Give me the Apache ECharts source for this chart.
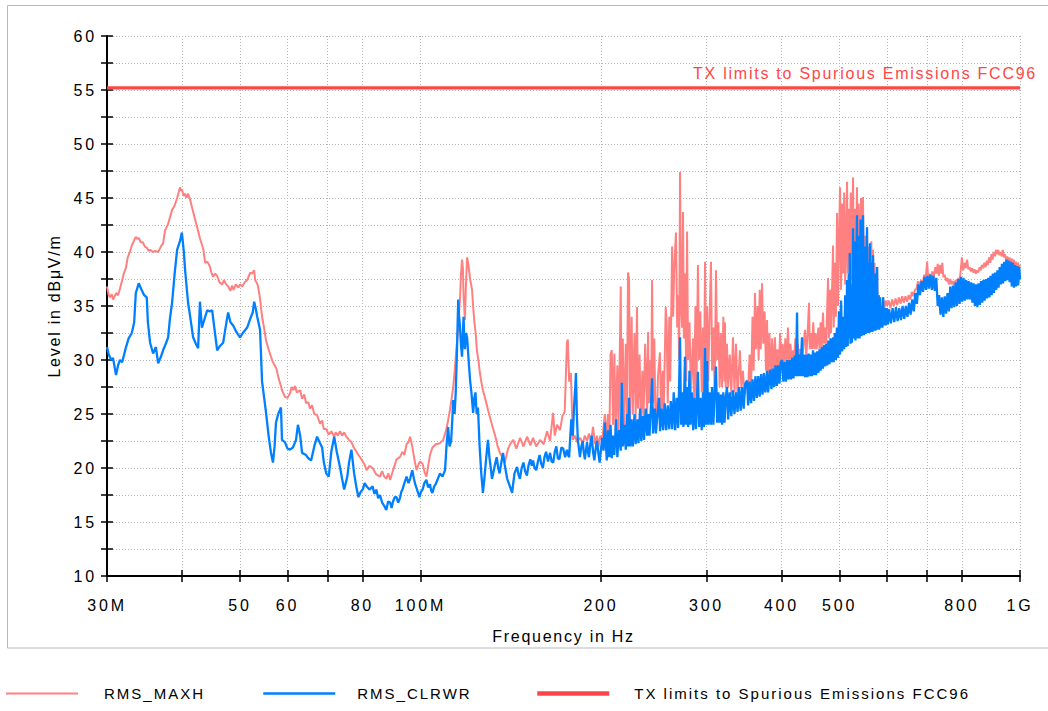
<!DOCTYPE html>
<html><head><meta charset="utf-8">
<script src="https://cdn.jsdelivr.net/npm/echarts@6.0.0/dist/echarts.min.js"></script>
<style>
html,body{margin:0;padding:0;background:#fff;}
#chart{width:1048px;height:711px;}
#chart text{letter-spacing:1.75px;}
#chart text[style*="Arial"], #chart text[font-family*="Arial"]{letter-spacing:2.8px;}
#chart text[style*="Helvetica"], #chart text[font-family*="Helvetica"]{letter-spacing:2px;}
</style></head><body><div id="chart"></div>
<script>
const FONT = "'Liberation Sans',sans-serif";
const TICK_FONT = "'Liberation Sans',Arial,sans-serif";
const LEGEND_FONT = "'Liberation Sans',Helvetica,sans-serif";

// RMS_MAXH trace: [frequency in MHz, level in dBuV/m]
const maxhData = [
[30.0,36.8],[30.2,36.0],[30.35,35.8],[30.55,36.1],[30.7,35.6],[30.9,35.9],[31.06,36.2],[31.3,36.0],[31.53,36.6],[31.8,37.4],[32.0,38.0],[32.25,38.5],[32.49,39.5],[32.75,40.0],[33.0,40.6],[33.25,41.0],[33.51,41.4],[33.7,41.2],[33.89,41.3],[34.15,40.9],[34.42,40.9],[34.7,40.5],[34.95,40.4],[35.2,40.1],[35.4,40.2],[35.81,40.0],[36.1,40.1],[36.51,40.0],[36.9,40.5],[37.21,40.8],[37.5,42.0],[37.94,42.6],[38.2,43.2],[38.52,43.9],[38.9,44.3],[39.27,45.0],[39.5,45.5],[39.72,46.0],[39.85,45.7],[40.0,45.8],[40.25,45.2],[40.5,45.4],[40.7,45.0],[40.96,45.4],[41.3,44.8],[41.6,44.1],[42.0,43.2],[42.41,42.3],[42.9,41.2],[43.41,40.3],[43.74,39.0],[44.1,39.1],[44.5,38.7],[44.8,38.1],[45.1,37.7],[45.45,38.0],[45.8,37.8],[46.2,37.2],[46.69,37.0],[47.0,37.4],[47.3,37.1],[47.8,36.8],[48.2,36.4],[48.51,36.9],[48.8,36.5],[49.2,37.0],[49.7,36.7],[50.0,37.0],[50.42,36.8],[50.9,37.2],[51.4,37.4],[52.0,38.1],[52.4,38.0],[52.8,38.3],[53.0,37.4],[53.5,37.0],[54.0,35.7],[54.42,34.0],[54.83,33.0],[55.26,31.8],[55.8,31.0],[56.32,30.3],[56.54,30.0],[57.0,29.6],[57.5,29.2],[58.0,28.3],[58.52,27.6],[58.75,27.2],[59.4,26.6],[60.0,26.5],[60.56,26.9],[61.0,27.5],[61.4,27.2],[61.75,27.6],[62.2,27.0],[63.0,27.2],[63.46,26.4],[64.0,26.8],[64.45,26.0],[65.0,26.1],[65.4,25.5],[65.95,25.8],[66.5,25.0],[67.23,24.9],[68.0,24.1],[68.53,24.4],[69.0,23.6],[69.64,23.6],[70.3,23.1],[71.0,23.4],[71.8,22.9],[72.2,23.3],[72.8,23.0],[73.4,23.4],[74.0,23.0],[74.6,23.3],[75.2,22.9],[76.0,22.6],[76.7,22.4],[77.4,21.9],[78.2,21.5],[78.8,21.2],[79.5,20.9],[80.1,20.6],[80.7,20.3],[81.3,19.8],[82.2,20.2],[83.2,20.0],[84.4,19.4],[85.6,19.2],[86.3,19.7],[87.0,19.2],[87.7,19.0],[88.4,19.5],[89.0,18.9],[89.9,19.7],[90.5,20.2],[91.2,20.8],[92.4,21.0],[93.3,21.5],[94.0,21.2],[94.8,22.2],[95.5,22.4],[96.1,22.9],[96.9,22.0],[97.7,20.8],[98.5,19.8],[99.2,20.3],[99.8,20.6],[100.8,20.4],[101.6,19.6],[102.3,19.2],[103.0,20.2],[103.7,21.2],[104.7,21.9],[106.0,22.2],[107.8,22.3],[109.1,22.6],[110.5,23.6],[112.0,25.4],[112.7,26.4],[113.4,27.5],[114.2,29.4],[115.0,31.5],[115.6,33.0],[116.0,34.5],[116.4,35.6],[116.8,37.8],[117.3,39.3],[117.7,38.5],[118.0,36.0],[118.6,33.7],[119.1,37.0],[119.6,39.5],[120.3,38.7],[121.0,37.5],[121.9,36.5],[122.4,35.0],[123.0,33.5],[123.6,32.5],[124.2,30.9],[124.9,30.0],[125.5,29.0],[126.3,28.0],[127.1,27.2],[128.0,26.6],[128.8,26.0],[129.7,25.3],[130.6,24.7],[131.9,23.8],[133.5,22.8],[134.5,22.0],[135.7,21.4],[137.0,21.0],[138.3,20.5],[139.2,21.2],[140.0,21.8],[141.4,22.3],[142.8,22.6],[144.5,21.8],[146.6,22.8],[148.5,22.0],[150.6,22.9],[152.5,22.1],[154.1,22.8],[156.0,22.0],[158.3,22.6],[160.5,22.2],[162.6,23.4],[164.5,22.5],[166.4,25.1],[167.5,23.0],[169.0,24.0],[170.9,23.5],[172.5,24.8],[174.0,25.2],[175.5,31.6],[176.1,31.9],[177.0,28.0],[178.2,28.8],[179.5,22.6],[181.0,23.0],[182.5,22.4],[184.6,22.8],[186.5,22.3],[188.0,23.0],[189.6,22.5],[191.0,23.2],[192.5,22.4],[194.0,23.8],[195.5,22.2],[197.0,23.0],[198.0,21.9],[199.5,23.0],[201.0,22.5],[203.0,25.0],[204.5,22.8],
[205.5,25.0],[206.5,22.3],[207.5,30.5],[208.5,30.9],[209.5,24.0],[210.6,30.6],[211.5,23.5],[213,29.5],[214,23.0],[215.8,36.8],[216.5,24.0],[217.5,32.0],[218.5,23.5],[220,31.5],[221,25.0],[221.9,38.1],[222.8,37.5],[223.6,24.2],[225,34.0],[226,25.0],[227.5,32.5],[228.5,24.5],[229.7,34.9],[230.5,25.5],[232,30.5],[233,24.0],[234.5,29.0],[235.5,24.5],[237,31.5],[238.8,25.0],[239.7,32.6],[240.5,26.0],[241.5,30.0],[242.5,25.5],[243.4,37.4],[244.3,26.0],[245.5,32.0],[246.5,25.0],[247.8,24.4],[249,28.5],[250.9,30.7],[252,24.8],[253.5,29.0],[254.5,25.0],[256.5,34.9],[257.4,33.5],[258.5,26.0],[260,34.0],[261,28.0],[262.9,40.5],[263.9,34.0],[265,38.5],[266.8,41.8],[268,33.0],[269,36.0],[270,30.0],[271.0,47.4],[272,35.0],[273,33.0],[274.1,43.7],[275,32.0],[276.2,38.0],[277.5,28.0],[278.4,41.9],[279.5,30.0],[281,33.5],[282.5,27.0],[284.8,32.0],[286,26.0],[287.5,35.0],[288.5,26.5],[290.3,38.8],[291.5,30.0],[293,34.5],[294.5,27.0],[296,33.0],[297,26.5],[298.3,39.1],[299.4,30.0],[300.6,35.0],[302,28.0],[303.5,34.0],[305.2,39.1],[306.5,29.0],[308,33.0],[309.5,27.0],[311.1,38.3],[312.5,30.0],[314,33.5],[315.5,27.5],[317,32.5],[318.5,27.5],[320,34.0],[321.5,28.0],[322.0,33.5],[323,27.5],[324.5,31.5],[326,27.5],[328,30.5],[330,26.8],[332.1,32.1],[334,27.0],[336,31.5],[338,26.5],[341,30.9],[343,27.5],[345,29.0],[347,26.8],[350.5,27.9],[352,27.2],[354,30.5],[356,27.5],[358,34.0],[359.5,29.0],[361.4,36.2],[363,31.0],[365,35.0],[366.5,30.0],[368,36.5],[369.5,31.0],[371.3,37.1],[373,31.5],[375,34.5],[377,29.0],[378.5,33.7],[380,28.5],[382,32.5],[384,28.5],[386,32.0],[388,28.5],[390.2,32.1],[392,29.0],[394,31.0],[396,29.0],[398,32.5],[400,29.5],[402,31.5],[404,29.0],[406,32.0],[408,29.5],[410.2,33.0],[412,29.5],[414,31.5],[416,30.0],[418.3,30.9],[420,29.8],[422,32.0],[424,30.0],[426,31.5],[428,30.2],[430,31.0],[432,30.0],[435,31.0],[438.0,32.8],[440,30.5],[442,32.0],[444.7,35.3],[446,31.0],[448,32.5],[450,31.0],[452,33.5],[454,31.0],[456,32.5],[458,31.0],[461,33.0],[463,31.0],[465,33.5],[467,31.2],[469.3,34.4],[471,31.5],[473,33.0],[475,31.5],[478.4,37.6],[480,32.0],[482,36.5],[484,32.5],[487.7,40.6],[489,33.0],[491,39.0],[493,34.0],[495.3,43.6],[497,35.0],[499,41.0],[501,46.0],[503,36.5],[505,44.5],[507,38.0],[509,45.5],[511,37.0],[514.7,46.5],[516,38.0],[518,44.0],[520,39.0],[522,45.5],[524,37.5],[526.7,46.9],[528,37.5],[530,44.0],[532,36.5],[534.7,46.0],[536,38.0],[538,44.5],[540,37.5],[543,45.0],[545,36.5],[547.2,45.1],[549,36.0],[552,41.5],[553.5,34.5],[555.7,42.3],[557,34.0],[560,40.5],[562,33.5],[565,41.0],[566.5,33.5],[568.7,40.2],[570,33.5],[572,39.0],[574,33.0],[577.6,38.6],[579,33.5],[582,36.0],[584.3,34.4],[586,35.0],[588,34.3],[591.1,35.8],[594,34.8],[597,35.5],[600,35.0],
[604,35.5],[608,34.8],[612,35.6],[616,35.0],[620,35.7],[624,35.1],[628,35.8],[632,35.2],[636,35.9],[640,35.3],[644,35.9],[648,35.4],[652,36.0],[656,35.6],[660,36.3],[664,35.9],[668,36.5],[672,36.6],[676,37.3],[680,36.8],[684,37.4],[688,37.0],[692,37.9],[696,37.4],[700,39.1],[703,37.5],[706,38.0],[710,37.4],[714,38.2],[718,37.6],[722,38.6],[726,38.0],[729,38.9],[732,37.8],[736,38.8],[739,38.0],[742,39.0],[745,37.7],[749,37.9],[753,37.3],[757,37.6],[761,37.0],[765,37.5],[769,37.0],[773,37.3],[777,36.9],[781,37.4],[785,37.0],[789,37.6],[793,37.3],[797,38.5],[800,39.5],[804,38.3],[808,39.0],[812,38.5],[816,39.3],[820,38.4],[824,38.6],[828,38.2],[832,38.5],[836,38.1],[840,38.4],[844,38.0],[848,38.3],[852,38.1],[856,38.6],[860,38.3],[864,38.8],[868,38.5],[872,39.0],[876,38.6],[880,39.2],[884,38.8],[888,39.5],[892,39.0],[896,39.8],[900,39.3],[904,40.0],[908,39.6],[912,40.2],[916,39.8],[920,40.2],[924,39.7],[928,40.0],[932,39.6],[936,40.2],[940,39.5],[944,39.8],[948,39.2],[952,39.6],[956,39.0],[960,39.5],[964,38.9],[968,39.4],[972,38.8],[976,39.3],[980,38.7],[984,39.1],[988,38.6],[992,39.0],[996,38.5],[1000,38.8]
];

// RMS_CLRWR trace: [frequency in MHz, level in dBuV/m]
const clrwrData = [
[30.0,31.2],[30.2,30.5],[30.5,30.0],[30.7,30.2],[31.06,28.6],[31.3,29.5],[31.53,30.0],[31.8,29.8],[32.2,31.0],[32.6,32.0],[33.0,32.5],[33.3,33.5],[33.51,36.2],[33.89,37.1],[34.2,36.6],[34.6,36.0],[34.95,35.8],[35.1,33.5],[35.4,31.6],[35.81,30.6],[36.2,31.2],[36.51,29.7],[36.9,30.3],[37.21,30.9],[37.6,31.5],[37.94,32.1],[38.2,33.8],[38.52,35.3],[38.9,38.0],[39.27,40.2],[39.7,41.0],[40.0,41.8],[40.3,40.0],[40.5,38.3],[40.96,35.3],[41.3,34.0],[41.76,32.1],[42.2,31.5],[42.57,31.1],[42.87,35.4],[43.2,33.0],[43.41,33.4],[44.08,34.6],[44.5,34.5],[44.93,34.6],[45.3,33.0],[45.8,30.9],[46.3,31.3],[46.87,31.6],[47.3,33.0],[47.77,34.4],[48.2,33.5],[48.7,33.2],[49.3,32.6],[50.0,32.1],[50.7,32.6],[51.4,33.0],[52.0,33.8],[52.5,34.4],[52.8,35.4],[53.1,34.8],[53.42,34.0],[54.0,32.8],[54.42,28.0],[54.83,26.6],[55.26,25.1],[55.8,23.0],[56.32,21.4],[56.75,20.5],[57.1,22.0],[57.41,24.2],[57.9,25.0],[58.52,25.6],[58.75,22.6],[59.42,22.4],[60.0,21.8],[60.56,21.7],[61.27,21.9],[62.0,22.6],[62.46,24.0],[63.0,23.0],[63.46,21.4],[64.45,21.2],[65.0,20.9],[65.7,20.7],[66.5,22.0],[67.23,22.9],[68.0,22.3],[68.53,21.9],[69.0,20.5],[69.64,19.5],[70.3,19.2],[71.0,21.5],[71.8,22.9],[72.5,21.5],[73.4,20.1],[74.0,19.0],[74.6,18.0],[75.5,19.2],[76.0,20.5],[76.7,21.7],[77.5,19.5],[78.2,18.2],[78.8,17.3],[79.5,17.8],[80.1,18.0],[80.7,18.6],[81.3,18.3],[82.2,18.0],[83.2,18.3],[83.8,17.6],[84.4,18.0],[85.0,17.2],[85.6,17.5],[86.3,16.8],[87.0,16.5],[87.7,16.1],[88.3,16.9],[89.0,16.8],[89.5,16.3],[90.0,16.9],[90.6,17.3],[91.2,17.3],[91.8,16.8],[92.4,17.2],[92.9,17.8],[93.3,18.0],[94.0,18.6],[94.8,19.2],[95.5,18.6],[96.1,19.0],[96.9,19.8],[97.5,19.0],[98.0,18.5],[98.7,18.0],[99.2,17.6],[99.6,17.3],[100.2,17.8],[100.8,18.0],[101.5,18.6],[102.3,18.9],[103.0,18.2],[103.7,18.5],[104.2,17.9],[104.7,17.7],[105.4,18.3],[106.0,18.5],[106.9,19.0],[107.8,19.5],[108.8,19.2],[109.9,19.8],[110.5,22.0],[111.2,23.8],[111.8,22.0],[112.5,22.5],[113.0,24.5],[113.4,26.3],[114.0,25.0],[114.5,27.0],[115.0,30.5],[115.6,35.6],[116.0,34.0],[116.4,33.0],[116.8,31.5],[117.3,30.3],[117.7,32.5],[118.0,34.0],[118.3,32.0],[118.6,31.0],[119.1,32.5],[119.6,32.1],[120.3,30.0],[121.0,28.1],[121.6,27.0],[122.4,25.1],[123.0,26.5],[123.5,27.0],[124.1,25.0],[124.7,25.6],[125.5,22.0],[126.3,19.5],[127.1,17.7],[127.8,19.0],[128.5,20.5],[129.0,21.5],[129.6,22.6],[130.3,21.0],[131.0,20.0],[131.6,19.0],[132.2,19.5],[133.0,20.2],[134.0,21.0],[134.8,20.0],[135.5,19.5],[136.4,20.5],[137.3,21.4],[138.2,20.3],[139.5,19.0],[140.8,18.4],[142.2,17.7],[142.8,18.6],[143.5,19.5],[144.2,19.8],[144.9,20.1],[145.7,19.4],[146.5,19.0],[147.5,20.0],[148.5,20.5],[149.5,19.7],[150.5,19.3],[151.5,20.3],[152.5,20.8],[153.3,20.2],[154.1,20.7],[155.0,20.0],[156.0,19.8],[157.0,20.6],[158.0,21.2],[159.0,20.4],[160.0,20.0],[161.0,21.0],[162.0,21.5],[163.2,20.6],[164.5,21.4],[165.5,20.6],[166.5,20.5],[167.5,21.5],[168.5,22.0],[169.5,20.9],[170.5,20.8],[171.8,21.9],[173.0,21.8],[174.3,21.0],[175.5,21.7],[176.3,21.2],[177.0,21.0],[177.8,23.0],[178.5,24.5],[179.5,23.0],[180.5,26.0],[181.2,27.5],[181.7,28.8],[182.3,25.0],[183.0,22.6],[184.5,21.0],[185.5,22.0],[186.5,22.5],[187.2,21.5],[188.0,20.8],[188.8,21.6],[189.6,22.4],[190.3,21.5],[191.0,21.0],[192.0,22.2],[193.0,23.0],[194.0,21.5],[195.0,20.7],[196.0,21.8],[197.0,22.5],[198.0,21.4],[199.0,20.5],[200.0,21.7],[201.0,22.8],[202.0,21.6],[203.0,24.2],[204.5,20.7],
[205.5,23.5],[206.5,21.0],[207.5,24.0],[208.5,20.9],[209.5,23.0],[210.5,21.2],[212,24.5],[213,21.0],[214.5,23.5],[215.8,21.6],[216.7,27.9],[217.6,22.0],[219,24.0],[220,21.7],[221,25.0],[222,22.0],[222.8,26.5],[223.8,22.0],[225,24.5],[226,22.0],[227.5,25.0],[228.5,22.2],[230,24.5],[231,22.3],[232.5,25.5],[233.5,22.5],[235,24.8],[236,22.6],[237.5,25.5],[238.8,23.0],[240,25.0],[241,23.0],[242.5,26.0],[243.4,28.3],[244.3,23.2],[246,25.5],[247,23.2],[248.5,25.0],[250,26.5],[251,23.4],[252.5,25.5],[254,23.5],[255.5,26.0],[257,23.5],[258.5,25.8],[260,23.6],[261.5,26.2],[263,23.6],[264.5,27.0],[266,23.5],[267.5,26.5],[269,23.7],[270,27.5],[271,32.1],[272,24.0],[273.5,27.0],[274.5,23.8],[276.2,30.3],[277,24.0],[278.5,27.5],[279.5,23.8],[281,29.0],[282,24.0],[283.5,27.0],[285,23.5],[286.5,26.5],[288,23.6],[290.3,28.9],[291.5,23.8],[293,26.5],[294.5,23.5],[296,27.0],[297,23.8],[298.3,31.1],[299.4,24.0],[300.6,29.9],[302,24.0],[303.5,27.0],[305,24.0],[306.5,27.5],[308,24.0],[309.5,27.0],[311.1,29.4],[312.5,24.2],[314,27.0],[315.5,24.2],[317,26.8],[318.5,24.0],[320,27.0],[321.5,24.2],[323,26.5],[324.5,27.5],[326,24.5],[328,27.0],[330,24.8],[332,27.2],[334,25.0],[336,27.0],[338,25.2],[340,27.5],[342,25.3],[344,27.5],[346,25.5],[348,27.8],[350.5,28.1],[352,25.8],[354,28.0],[356,26.0],[358,28.2],[360,26.2],[362,28.5],[364,26.5],[366,28.5],[368,26.6],[370,28.7],[372,26.8],[374,28.8],[376,27.0],[378.5,29.0],[380,27.0],[383,29.1],[385,27.3],[387,29.2],[389,27.5],[391,29.5],[393,27.6],[395,29.5],[397,27.8],[399,29.8],[401,30.0],[403,28.0],[405,29.8],[407,28.0],[409,30.0],[411,28.2],[413,30.0],[415,28.2],[417,30.2],[419,28.3],[421,30.4],[423,28.5],[424.7,34.4],[426,28.5],[428,30.5],[430,28.5],[432.9,32.1],[434,28.5],[436,30.5],[438,28.4],[440,30.5],[442,28.4],[444,30.6],[446,28.5],[448,30.5],[449.5,28.5],[451.6,30.9],[453,28.6],[455,30.7],[457,28.6],[459,30.8],[461,28.8],[463,31.0],[465,29.0],[467,31.2],[469,29.2],[471,31.4],[473,29.4],[475,31.5],[477,29.5],[479,31.8],[481,29.6],[483,32.0],[485,29.8],[487.7,32.1],[489,29.8],[491,32.5],[493,30.0],[495,33.0],[497,30.2],[499,34.5],[501,30.5],[503,35.5],[505,30.8],[507,34.0],[509,31.0],[511,36.0],[513,31.2],[514.7,37.4],[516,31.3],[518,38.0],[519,32.0],[520,39.9],[521.5,31.5],[523,37.0],[524.5,31.6],[526.7,42.2],[528,32.0],[530,41.0],[531.5,31.8],[534.7,43.4],[536,32.0],[538,41.5],[540,32.0],[542,43.0],[544,32.2],[547.2,43.4],[549,32.3],[551,40.5],[553,32.4],[555.7,42.3],[557,32.5],[559,39.0],[560.5,32.5],[562,40.8],[564,32.6],[566,39.0],[567.5,32.6],[568.7,39.7],[570,32.7],[572,38.0],[574,32.7],[577.6,38.6],[579,32.8],[581,36.0],[582.5,32.8],[584.3,35.8],[586,33.0],[588,35.0],[589.5,33.0],[591.1,35.8],[593,33.2],[595,34.8],[597,33.2],[600,34.8],
[602,33.3],[605,34.7],[609,33.4],[613,34.8],[617,33.5],[621,34.9],[625,33.6],[629,34.8],[633,33.7],[637,35.0],[641,33.8],[645,35.0],[649,34.0],[653,35.3],[657,34.2],[661,35.6],[665,34.5],[669,36.2],[673,35.2],[677,37.0],[681,36.0],[685,37.3],[689,36.3],[693,37.7],[697,36.5],[701,37.8],[705,36.6],[709,37.9],[713,36.5],[717,37.8],[721,36.4],[725,37.6],[729,35.0],[733,36.0],[737,34.2],[741,35.8],[745,34.0],[749,35.9],[753,34.3],[757,36.2],[761,34.5],[765,36.8],[769,34.8],[773,36.9],[777,34.9],[781,37.2],[785,35.0],[789,37.5],[793,35.2],[797,37.7],[801,35.4],[805,37.6],[809,35.5],[813,37.4],[817,35.6],[821,37.3],[825,35.6],[829,37.2],[833,35.3],[837,37.1],[841,35.0],[845,37.0],[849,34.9],[853,37.1],[857,35.1],[861,37.3],[865,35.3],[869,37.4],[873,35.5],[877,37.5],[881,35.7],[885,37.6],[889,35.8],[893,37.8],[897,36.0],[901,38.0],[905,36.2],[909,38.1],[913,36.5],[917,38.3],[921,36.7],[925,38.6],[929,37.0],[933,38.9],[937,37.1],[941,39.1],[945,37.3],[949,39.3],[953,37.4],[957,39.2],[961,37.2],[965,39.1],[969,36.8],[973,39.0],[977,36.7],[981,38.8],[985,36.8],[989,38.7],[993,36.9],[997,38.6],[1000,37.5]
];

// Limit line
const limitName = 'TX limits to Spurious Emissions FCC96';
const limitFreq = [30, 1000];
const limitLevel = [55.2, 55.2];

// Axes
const xTickValues = [30, 40, 50, 60, 70, 80, 100, 200, 300, 400, 500, 600, 700, 800, 1000];
const xLabelValues = [30, 50, 60, 80, 100, 200, 300, 400, 500, 800, 1000];
const xLabelTexts = ['30M', '50', '60', '80', '100M', '200', '300', '400', '500', '800', '1G'];
const yMin = 10, yMax = 60, yStep = 2.5, yLabelStep = 5;

const seriesNames = ['RMS_MAXH', 'RMS_CLRWR'];
const colors = { maxh: '#ff8080', clrwr: '#0080ff', limit: '#ff4646' };

function xLabel(v) {
  for (let i = 0; i < xLabelValues.length; i++) {
    if (Math.abs(xLabelValues[i] - v) < 1e-6 * v) return xLabelTexts[i];
  }
  return '';
}

const chart = echarts.init(document.getElementById('chart'), null, { renderer: 'svg' });
const gridStroke = { color: '#b4b4b4', width: 1, type: [1, 2] };
const textBase = { fontFamily: FONT, fontSize: 16, color: '#000' };
const tickText = { fontFamily: TICK_FONT, fontSize: 16, color: '#000' };
const legendText = { fontFamily: LEGEND_FONT, fontSize: 15, color: '#000' };

function legendFor(name, left, gap, color, width) {
  return { data: [name], left: left, top: 686, padding: 0, itemWidth: 72, itemHeight: 14,
    selectedMode: false, itemStyle: { opacity: 0 },
    lineStyle: { color: color, width: width },
    textStyle: { ...legendText, padding: [0, 0, 0, gap] } };
}

const option = {
  animation: false,
  backgroundColor: '#fff',
  graphic: [{
    type: 'rect', silent: true, z: -10,
    shape: { x: 7.5, y: 5.5, width: 1060, height: 642.5 },
    style: { fill: null, stroke: '#b8b8b8', lineWidth: 1 }
  }],
  grid: { left: 107, right: 28, top: 36, bottom: 135, containLabel: false },
  xAxis: [{
    type: 'log', logBase: 10, min: 30, max: 1000, position: 'bottom',
    axisLine: { show: true, lineStyle: { color: '#000', width: 2 } },
    axisTick: { show: true, length: 6, customValues: xTickValues, lineStyle: { color: '#000', width: 1.5 } },
    axisLabel: { customValues: xLabelValues, formatter: xLabel, margin: 21, ...tickText },
    splitLine: { show: true, lineStyle: gridStroke },
    minorTick: { show: false }, minorSplitLine: { show: false },
    name: 'Frequency in Hz', nameLocation: 'middle', nameGap: 52,
    nameTextStyle: { ...textBase }
  }, {
    type: 'log', logBase: 10, min: 30, max: 1000, position: 'bottom',
    axisLine: { show: false },
    axisTick: { show: true, inside: true, length: 6, customValues: xTickValues, lineStyle: { color: '#000', width: 1.5 } },
    axisLabel: { show: false }, splitLine: { show: false }
  }],
  yAxis: [{
    type: 'value', min: yMin, max: yMax, interval: yStep, position: 'left',
    axisLine: { show: true, lineStyle: { color: '#000', width: 2 } },
    axisTick: { show: true, length: 6, lineStyle: { color: '#000', width: 1.5 } },
    axisLabel: { margin: 10, formatter: v => (Math.abs(v % yLabelStep) < 1e-9 ? String(v) : ''), ...tickText },
    splitLine: { show: true, lineStyle: gridStroke },
    name: 'Level in dBμV/m', nameLocation: 'middle', nameGap: 45, nameRotate: 90,
    nameTextStyle: { ...textBase }
  }, {
    type: 'value', min: yMin, max: yMax, interval: yStep, position: 'left',
    axisLine: { show: false },
    axisTick: { show: true, inside: true, length: 6, lineStyle: { color: '#000', width: 1.5 } },
    axisLabel: { show: false }, splitLine: { show: false }
  }],
  legend: [
    legendFor(seriesNames[0], 5, 21, colors.maxh, 2),
    legendFor(seriesNames[1], 262, 17, colors.clrwr, 2.5),
    legendFor(limitName, 535, 20, colors.limit, 4.5)
  ],
  series: [
    { name: seriesNames[0], type: 'line', data: maxhData, symbol: 'none', silent: true, z: 2,
      lineStyle: { color: colors.maxh, width: 2 }, itemStyle: { color: colors.maxh } },
    { name: seriesNames[1], type: 'line', data: clrwrData, symbol: 'none', silent: true, z: 3,
      lineStyle: { color: colors.clrwr, width: 2.3 }, itemStyle: { color: colors.clrwr } },
    { name: limitName, type: 'line', silent: true, z: 4,
      symbol: 'circle', symbolSize: 0, showSymbol: true,
      lineStyle: { color: colors.limit, width: 3.2 }, itemStyle: { color: colors.limit },
      data: limitFreq.map((f, i) => i === limitFreq.length - 1 ? {
        value: [f, limitLevel[i]],
        label: { show: true, position: 'top', align: 'right', offset: [17, -1],
          formatter: limitName, color: colors.limit, fontFamily: FONT, fontSize: 16 }
      } : { value: [f, limitLevel[i]] })
    }
  ]
};
chart.setOption(option);
</script></body></html>
